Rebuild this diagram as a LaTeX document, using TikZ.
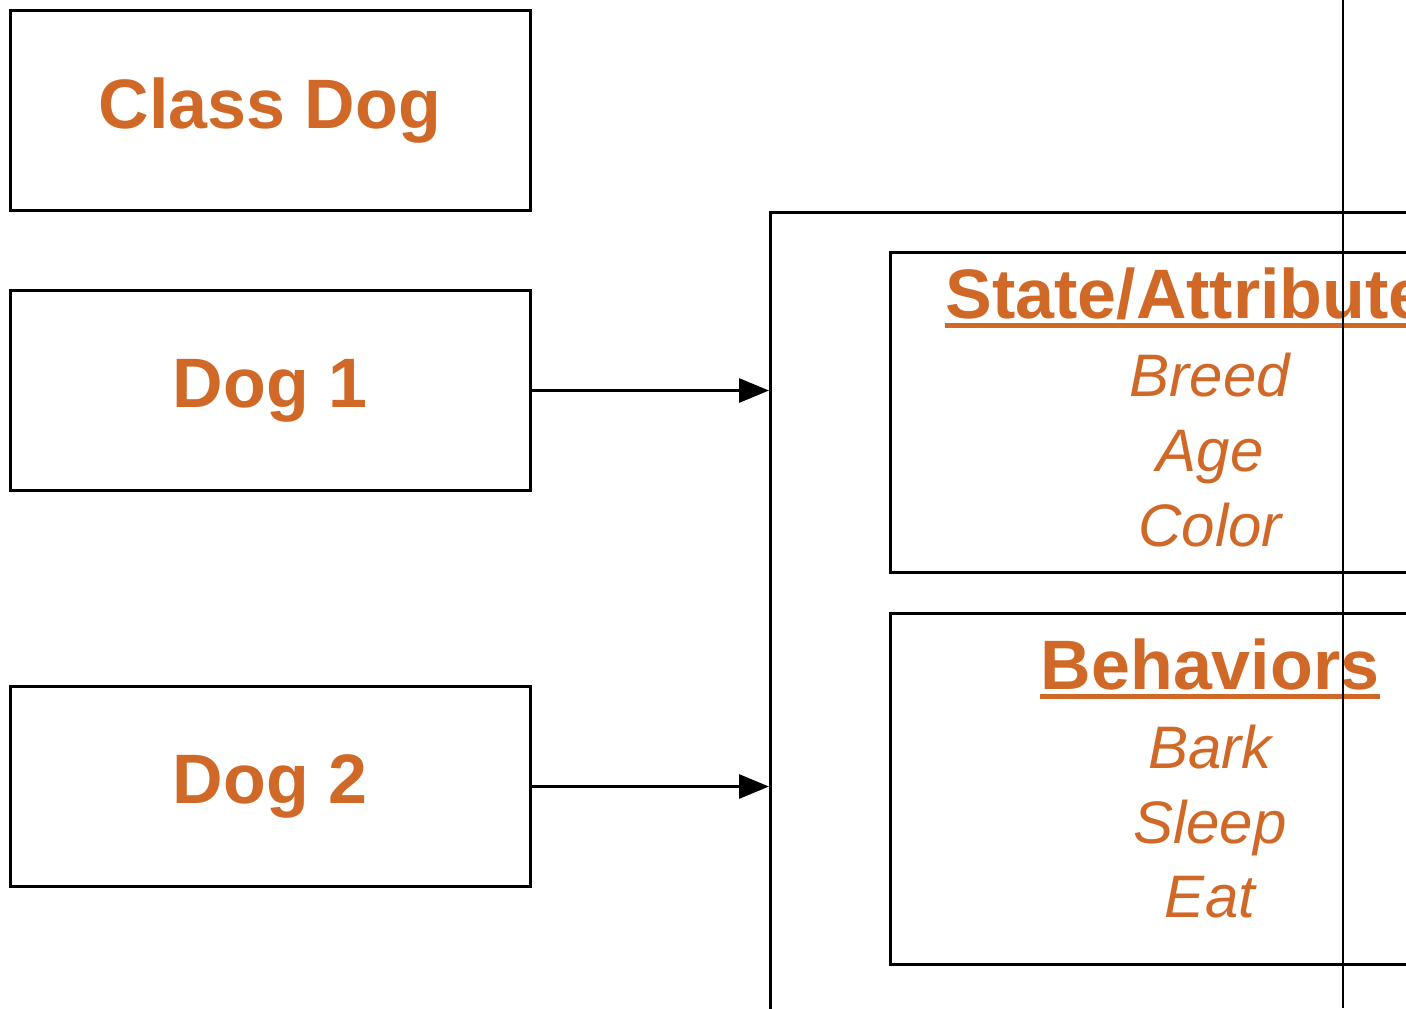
\documentclass[tikz,border=0pt]{standalone}
\usepackage{fontspec}
\setmainfont{Liberation Sans}
\usetikzlibrary{arrows.meta}
\definecolor{txt}{RGB}{208,105,40}
\begin{document}
\begin{tikzpicture}[x=0.5pt,y=-0.5pt,
  box/.style={draw=black,line width=1.5pt,minimum width=260pt,minimum height=100pt,inner sep=0pt,
    text=txt,font=\fontsize{35}{42}\selectfont\bfseries},
  frame/.style={draw=black,line width=1.5pt,inner sep=0pt},
  head/.style={text=txt,font=\fontsize{35}{42}\selectfont\bfseries,anchor=base,inner sep=0pt},
  item/.style={text=txt,font=\fontsize{30}{36}\selectfont\itshape,anchor=base,inner sep=0pt},
  uline/.style={draw=txt,line width=2.5pt},
  conn/.style={draw=black,line width=1.5pt,-{Triangle[length=15pt,width=12pt]}}]
\useasboundingbox (0,0) rectangle (1406,1008);
\clip (0,0) rectangle (1406,1008);
\node[box] (cls) at (270,110.5) {Class Dog};
\node[box] (d1) at (270,390.5) {Dog 1};
\node[box] (d2) at (270,786.5) {Dog 2};
\node[frame,minimum width=400pt,minimum height=450pt,anchor=north west] (big) at (769,210.5) {};
\node[frame,minimum width=321pt,minimum height=160pt,anchor=north west] (att) at (889,250.5) {};
\node[frame,minimum width=321pt,minimum height=175.5pt,anchor=north west] (beh) at (889,611.5) {};
\node[head,anchor=base west] (hatt) at (945,318) {State/Attribute};
\node[head] (hbeh) at (1210,689) {Behaviors};
\draw[uline] ([yshift=-3.5pt]hatt.base west) -- ([yshift=-3.5pt]hatt.base east);
\draw[uline] ([yshift=-3.5pt]hbeh.base west) -- ([yshift=-3.5pt]hbeh.base east);
\node[item] (i1) at (1210,396) {Breed};
\node[item] (i2) at (1210,471) {Age};
\node[item] (i3) at (1210,546) {Color};
\node[item] (i4) at (1210,768) {Bark};
\node[item] (i5) at (1210,843) {Sleep};
\node[item] (i6) at (1210,917) {Eat};
\draw[conn] (d1.east) -- (d1.east -| big.west);
\draw[conn] (d2.east) -- (d2.east -| big.west);
\coordinate (vt) at (1343,0);
\coordinate (vb) at (1343,1008);
\draw[black,line width=0.75pt] (vt) -- (vb);
\end{tikzpicture}
\end{document}
